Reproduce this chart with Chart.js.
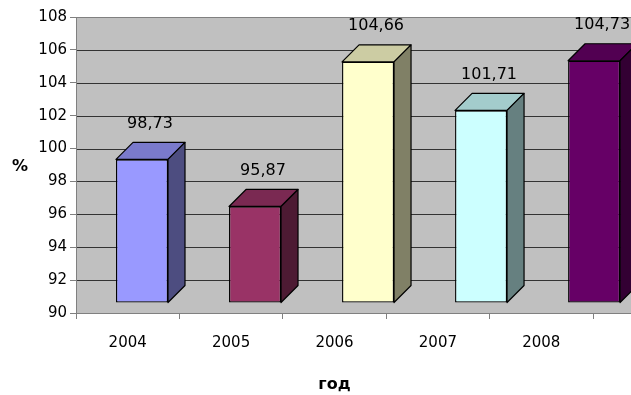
<!DOCTYPE html>
<html>
<head>
<meta charset="utf-8">
<script src="https://cdn.jsdelivr.net/npm/chart.js@4.4.1/dist/chart.umd.min.js"></script>
<style>
  html, body { margin: 0; padding: 0; background: #fff; }
  #wrap { width: 631px; height: 395px; }
</style>
</head>
<body>
<div id="wrap"><canvas id="chart" width="631" height="395"></canvas></div>
<script>
// data
const categories = ['2004', '2005', '2006', '2007', '2008'];
const values = [98.73, 95.87, 104.66, 101.71, 104.73];
const barColors = ['#9999FF', '#993366', '#FFFFCC', '#CCFFFF', '#660066'];
const yMin = 90;
const yMax = 108;
const yStep = 2;

const FONT = "'DejaVu Sans', Verdana, sans-serif";

// fake 3D look (Excel style column chart)
const DEPTH = 17;      // side/top face depth
const LIFT = 10;       // front plane sits above the floor edge
const SPREAD = 1.093;  // bars spread a bit wider than the axis labels
const SHIFT = 9.5;

function shade(hex, f) {
    const n = parseInt(hex.slice(1), 16);
    const r = Math.round(((n >> 16) & 255) * f);
    const g = Math.round(((n >> 8) & 255) * f);
    const b = Math.round((n & 255) * f);
    return 'rgb(' + r + ',' + g + ',' + b + ')';
}

function fmt(v) {
    return String(v).replace('.', ',');
}

function projX(area, x) {
    return area.left + SHIFT + SPREAD * (x - area.left);
}

const wallPlugin = {
    id: 'wall',
    beforeDraw(chart) {
        const ctx = chart.ctx;
        const a = chart.chartArea;
        const y = chart.scales.y;
        ctx.save();
        ctx.fillStyle = '#C0C0C0';
        ctx.fillRect(a.left, a.top, chart.width - a.left, a.bottom - a.top);
        y.ticks.forEach(function(t) {
            const py = Math.round(y.getPixelForValue(t.value)) + 0.5;
            ctx.beginPath();
            ctx.moveTo(a.left, py);
            ctx.lineTo(chart.width, py);
            if (t.value === yMin || t.value === yMax) {
                ctx.strokeStyle = '#808080';
            } else {
                ctx.strokeStyle = '#333333';
            }
            ctx.lineWidth = 1;
            ctx.stroke();
        });
        ctx.restore();
    },
    beforeDatasetsDraw(chart) {
        const ctx = chart.ctx;
        const a = chart.chartArea;
        ctx.save();
        ctx.translate(a.left + SHIFT, -LIFT);
        ctx.scale(SPREAD, 1);
        ctx.translate(-a.left, 0);
    },
    afterDatasetsDraw(chart) {
        const ctx = chart.ctx;
        ctx.restore();
        const a = chart.chartArea;
        const meta = chart.getDatasetMeta(0);
        ctx.save();
        ctx.lineWidth = 1.2;
        ctx.strokeStyle = '#000';
        ctx.lineJoin = 'round';
        meta.data.forEach(function(bar, i) {
            const p = bar.getProps(['x', 'y', 'base', 'width'], true);
            const L = projX(a, p.x - p.width / 2);
            const R = projX(a, p.x + p.width / 2);
            const T = p.y - LIFT;
            const B = p.base - LIFT;
            const d = DEPTH;
            // top face
            ctx.beginPath();
            ctx.moveTo(L, T);
            ctx.lineTo(L + d, T - d);
            ctx.lineTo(R + d, T - d);
            ctx.lineTo(R, T);
            ctx.closePath();
            ctx.fillStyle = shade(barColors[i], 0.8);
            ctx.fill();
            ctx.stroke();
            // side face
            ctx.beginPath();
            ctx.moveTo(R, T);
            ctx.lineTo(R + d, T - d);
            ctx.lineTo(R + d, B - d);
            ctx.lineTo(R, B);
            ctx.closePath();
            ctx.fillStyle = shade(barColors[i], 0.5);
            ctx.fill();
            ctx.stroke();
            // value label
            ctx.fillStyle = '#000';
            ctx.font = '16px ' + FONT;
            ctx.textAlign = 'center';
            ctx.textBaseline = 'middle';
            ctx.fillText(fmt(values[i]), (L + R) / 2 + 8, T - 36);
        });
        // "%" axis caption, written horizontally
        ctx.font = 'bold 16px ' + FONT;
        ctx.textAlign = 'center';
        ctx.textBaseline = 'middle';
        ctx.fillStyle = '#000';
        ctx.fillText('%', 20, (a.top + a.bottom) / 2 + 2);
        ctx.restore();
    }
};

const ctx = document.getElementById('chart').getContext('2d');

new Chart(ctx, {
    type: 'bar',
    data: {
        labels: categories,
        datasets: [{
            data: values,
            base: yMin,
            backgroundColor: barColors,
            borderColor: '#000000',
            borderWidth: 1.2,
            borderSkipped: false,
            barPercentage: 0.46,
            categoryPercentage: 1,
            clip: false
        }]
    },
    options: {
        responsive: false,
        animation: false,
        layout: {
            padding: { top: 17, right: 38, bottom: 0, left: 0 }
        },
        plugins: {
            legend: { display: false },
            tooltip: { enabled: false }
        },
        scales: {
            x: {
                grid: {
                    drawOnChartArea: false,
                    drawTicks: true,
                    tickLength: 6,
                    color: '#808080'
                },
                border: { display: true, color: '#808080' },
                ticks: {
                    color: '#000',
                    padding: 15,
                    font: { family: FONT, size: 15 }
                },
                title: {
                    display: true,
                    text: 'год',
                    color: '#000',
                    font: { family: FONT, size: 16, weight: 'bold' },
                    padding: { top: 4, bottom: 1 }
                },
                afterFit: function(s) { s.height = 82; }
            },
            y: {
                min: yMin,
                max: yMax,
                grid: {
                    drawOnChartArea: false,
                    drawTicks: true,
                    tickLength: 6,
                    color: '#808080'
                },
                border: { display: true, color: '#808080' },
                ticks: {
                    stepSize: yStep,
                    color: '#000',
                    padding: 3,
                    font: { family: FONT, size: 15 }
                },
                afterFit: function(s) { s.width = 76; }
            }
        }
    },
    plugins: [wallPlugin]
});
</script>
</body>
</html>
